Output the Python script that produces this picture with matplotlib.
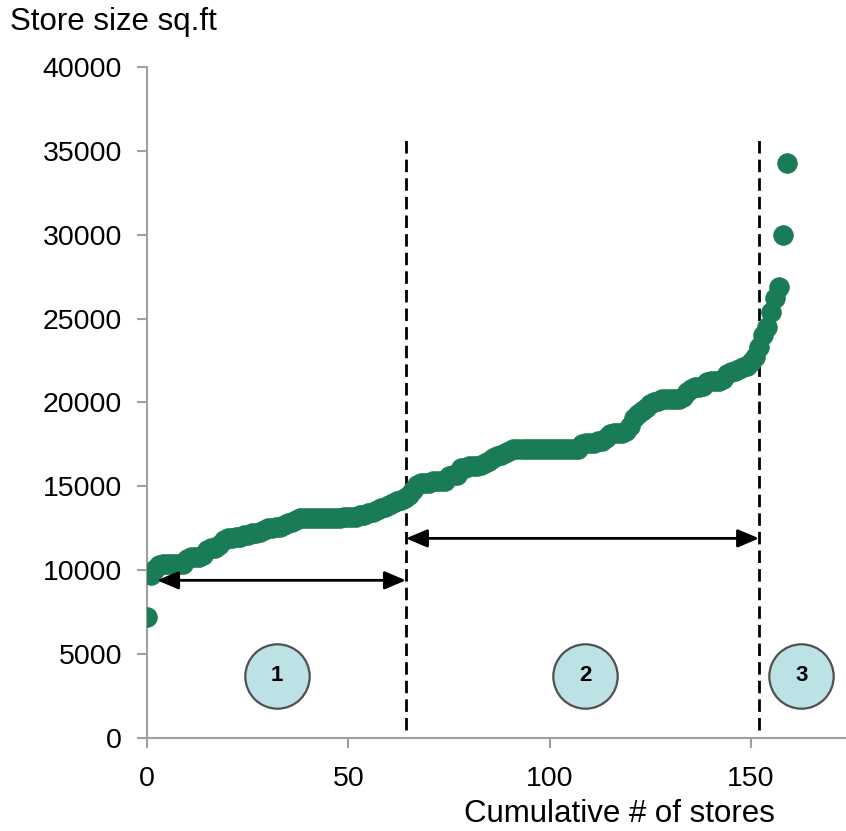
import matplotlib
matplotlib.use("Agg")
import matplotlib.pyplot as plt
import numpy as np

plt.rcParams['font.family'] = ['Liberation Sans', 'DejaVu Sans']

# Store sizes (sq.ft), sorted ascending; x is the cumulative store count
store_size = [
    7200, 9700, 10100, 10300, 10400, 10400, 10400, 10400, 10400, 10400,
    10700, 10800, 10800, 10800, 10900, 11200, 11300, 11300, 11500, 11800,
    11900, 11900, 12000, 12000, 12100, 12100, 12200, 12200, 12300, 12400,
    12500, 12500, 12600, 12600, 12700, 12800, 12900, 13000, 13100, 13100,
    13100, 13100, 13100, 13100, 13100, 13100, 13100, 13100, 13100, 13200,
    13200, 13200, 13200, 13300, 13300, 13400, 13500, 13600, 13700, 13800,
    13900, 14000, 14100, 14200, 14300, 14500, 14800, 15100, 15200, 15200,
    15200, 15300, 15300, 15300, 15300, 15600, 15700, 15700, 16100, 16100,
    16200, 16200, 16200, 16300, 16400, 16500, 16700, 16800, 16900, 17000,
    17100, 17200, 17200, 17200, 17200, 17200, 17200, 17200, 17200, 17200,
    17200, 17200, 17200, 17200, 17200, 17200, 17200, 17200, 17500, 17600,
    17600, 17600, 17700, 17700, 17900, 18100, 18200, 18200, 18200, 18300,
    18600, 19100, 19300, 19500, 19700, 19900, 20000, 20100, 20200, 20200,
    20200, 20200, 20200, 20300, 20600, 20800, 20900, 20900, 21000, 21200,
    21300, 21300, 21300, 21400, 21700, 21800, 21900, 22000, 22100, 22200,
    22400, 22700, 23300, 24000, 24500, 25400, 26200, 26900, 30000, 34300,
]
store_count = list(range(len(store_size)))

# Segment boundaries (cumulative # of stores) and segment labels
segment_breaks = [64.3, 152.0]
segment_start = 2.5
arrow_levels = [9400, 11900]
segment_labels = ["1", "2", "3"]
label_x = [32.3, 108.8, 162.5]
label_y = 3700

x_ticks = [0, 50, 100, 150]
y_ticks = [0, 5000, 10000, 15000, 20000, 25000, 30000, 35000, 40000]

GREEN = "#1a7b57"
AXIS_GRAY = "#a0a0a0"

W, H = 846, 831
fig = plt.figure(figsize=(W / 100, H / 100), dpi=100)
left, right, bottom, top = 147 / W, 1.0, 1 - 738 / H, 1 - 67 / H
ax = fig.add_axes([left, bottom, right - left, top - bottom])

ax.plot(store_count, store_size, "o", ms=14.2, color=GREEN, mec=GREEN,
        mew=0.5, zorder=3)

# Dashed segment boundaries
for xb in segment_breaks:
    ax.plot([xb, xb], [500, 35800], color="black", lw=2.0,
            linestyle=(0, (4.5, 2.2)), zorder=2)

# Double-headed arrows spanning segments 1 and 2
spans = [(segment_start, segment_breaks[0]), (segment_breaks[0], segment_breaks[1])]
for (x0, x1), yl in zip(spans, arrow_levels):
    ax.annotate("", xy=(x1, yl), xytext=(x0, yl),
                arrowprops=dict(arrowstyle="<|-|>,head_length=1.3,head_width=0.55",
                                color="black", lw=2.0, shrinkA=0, shrinkB=0),
                zorder=4)

# Numbered circles
for lx, lab in zip(label_x, segment_labels):
    ax.scatter([lx], [label_y], s=2150, facecolor="#bde2e5",
               edgecolor="#505050", linewidth=1.6, zorder=5, clip_on=False)
    ax.text(lx, label_y, lab, ha="center", va="center", fontsize=16,
            fontweight="bold", color="black", zorder=6)

ax.set_xlim(0, (W - 147) / 4.027)
ax.set_ylim(0, 40000)
ax.set_xticks(x_ticks)
ax.set_yticks(y_ticks)
ax.set_xticklabels([str(v) for v in x_ticks])
ax.set_yticklabels([str(v) for v in y_ticks])

for s in ["top", "right"]:
    ax.spines[s].set_visible(False)
for s in ["left", "bottom"]:
    ax.spines[s].set_color(AXIS_GRAY)
    ax.spines[s].set_linewidth(1.5)
    ax.spines[s].set_zorder(1)

ax.tick_params(axis="both", direction="out", length=7, width=1.5,
               color=AXIS_GRAY, labelsize=20.5, labelcolor="black")
ax.tick_params(axis="y", pad=11)
ax.tick_params(axis="x", pad=13)

fig.text(10 / W, 1 - 22 / H, "Store size sq.ft", fontsize=22.5,
         ha="left", va="center")
fig.text(775 / W, 1 - 814 / H, "Cumulative # of stores", fontsize=22.5,
         ha="right", va="center")

fig.savefig("out.png", dpi=100)
